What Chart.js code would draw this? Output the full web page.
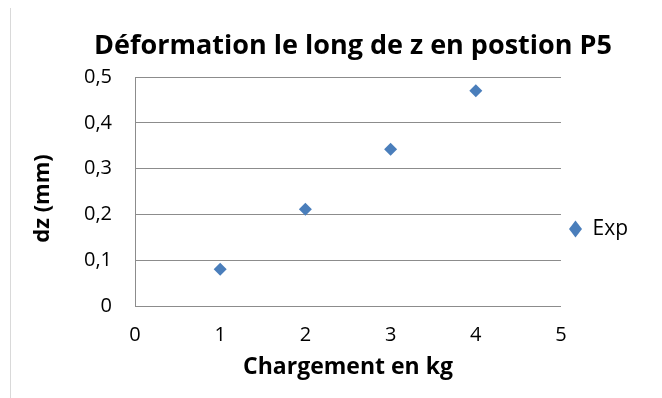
<!DOCTYPE html>
<html>
<head>
<meta charset="utf-8">
<title>Déformation P5</title>
<script src="https://cdn.jsdelivr.net/npm/chart.js@4.4.0/dist/chart.umd.min.js"></script>
<style>
  html, body { margin: 0; padding: 0; background: #fff; }
  #wrap { position: relative; width: 662px; height: 398px; }
  /* thin frame line on the left side of the chart */
  #wrap::before { content: ''; position: absolute; left: 10px; top: 8px; bottom: 0; border-left: 1px solid #d9d9d9; }
</style>
</head>
<body>
<div id="wrap"><canvas id="deformChart" width="662" height="398"></canvas></div>
<script>
const CHART_TITLE = 'Déformation le long de z en postion P5';
const X_TITLE = 'Chargement en kg';
const Y_TITLE = 'dz (mm)';
const SERIES_NAME = 'Exp';

// measurements: load (kg) and displacement along z (mm)
const loads = [1, 2, 3, 4];
const dz = [0.08, 0.211, 0.342, 0.47];

// axis ranges
const xRange = [0, 5];
const yRange = [0, 0.5];

const FONT = '"Open Sans", sans-serif';
const MARKER = '#4A7EBB';
const AXIS_GREY = '#8c8c8c';

// comma as decimal separator
function frNumber(v) {
    return Number(v.toFixed(1)).toString().replace('.', ',');
}

// chart title and the rotated y axis title
const titlesPlugin = {
    id: 'titles',
    afterDraw(chart) {
        const { ctx, chartArea } = chart;
        ctx.save();
        ctx.fillStyle = '#000';
        ctx.textAlign = 'center';

        ctx.font = 'bold 27px ' + FONT;
        ctx.textBaseline = 'alphabetic';
        ctx.fillText(CHART_TITLE, (chartArea.left + chartArea.right) / 2 + 5, 54);

        ctx.font = 'bold 22px ' + FONT;
        ctx.textBaseline = 'middle';
        ctx.translate(43, (chartArea.top + chartArea.bottom) / 2 + 7);
        ctx.rotate(-Math.PI / 2);
        ctx.fillText(Y_TITLE, 0, 0);
        ctx.restore();
    }
};

const ctx = document.getElementById('deformChart');

new Chart(ctx, {
    type: 'scatter',
    data: {
        datasets: [{
            label: SERIES_NAME,
            data: loads.map((x, i) => ({ x: x, y: dz[i] })),
            pointStyle: 'rectRot',
            pointRadius: 6.5,
            pointHoverRadius: 6.5,
            backgroundColor: MARKER,
            borderColor: MARKER,
            borderWidth: 0
        }]
    },
    options: {
        responsive: false,
        animation: false,
        devicePixelRatio: 1,
        layout: {
            padding: { left: 0, top: 77, right: 24, bottom: 17 }
        },
        plugins: {
            title: { display: false },
            tooltip: { enabled: false },
            legend: {
                position: 'right',
                labels: {
                    usePointStyle: true,
                    pointStyle: 'rectRot',
                    pointStyleWidth: 13,
                    boxHeight: 12,
                    color: '#000',
                    font: { family: FONT, size: 21 },
                    padding: 8
                }
            }
        },
        scales: {
            x: {
                type: 'linear',
                min: xRange[0],
                max: xRange[1],
                afterFit(scale) { scale.height = 75; },
                ticks: {
                    stepSize: 1,
                    padding: 17,
                    color: '#000',
                    font: { family: FONT, size: 20 },
                    callback: v => frNumber(v)
                },
                grid: { display: false, drawTicks: false },
                border: { color: AXIS_GREY, width: 1 },
                title: {
                    display: true,
                    text: X_TITLE,
                    color: '#000',
                    font: { family: FONT, size: 23, weight: 'bold' },
                    padding: { top: 0, bottom: 0 }
                }
            },
            y: {
                min: yRange[0],
                max: yRange[1],
                afterFit(scale) { scale.width = 135; },
                ticks: {
                    stepSize: 0.1,
                    padding: 23,
                    color: '#000',
                    font: { family: FONT, size: 20 },
                    callback: v => frNumber(v)
                },
                grid: { color: AXIS_GREY, lineWidth: 1, drawTicks: false },
                border: { color: AXIS_GREY, width: 1 },
                title: { display: false }
            }
        }
    },
    plugins: [titlesPlugin]
});
</script>
</body>
</html>
